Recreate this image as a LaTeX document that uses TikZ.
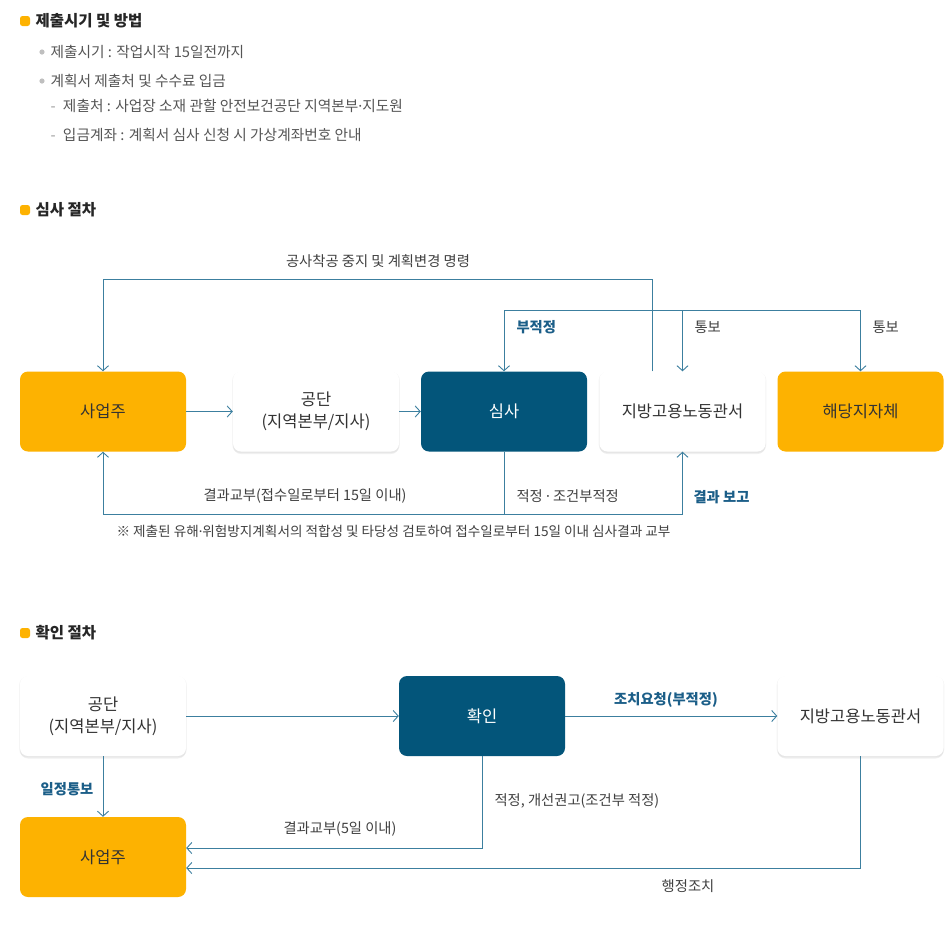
\documentclass[tikz,border=0pt]{standalone}
\usepackage{fontspec}
\setmainfont{Noto Sans CJK KR}
\newfontfamily\dotfont{Noto Sans}
\newcommand\mdot{{\dotfont ·}}
\usetikzlibrary{arrows.meta,shadows}

\definecolor{orangebox}{HTML}{FDB201}
\definecolor{navybox}{HTML}{03557A}
\definecolor{flowline}{HTML}{3C7F9F}
\definecolor{flowlabel}{HTML}{1B5E88}
\definecolor{bodytext}{HTML}{555555}

\begin{document}
\begin{tikzpicture}[x=1pt,y=-1pt,
	box/.style={rounded corners=8pt,minimum width=166pt,minimum height=80pt,
		align=center,font=\fontsize{16.5}{22}\selectfont,text=black!80},
	ownerbox/.style={box,fill=orangebox},
	judgebox/.style={box,fill=navybox,text=white},
	officebox/.style={box,fill=white,
		drop shadow={shadow xshift=0pt,shadow yshift=-2.5pt,fill=black,opacity=0.06},
		drop shadow={shadow xshift=0pt,shadow yshift=-1pt,shadow scale=1.01,fill=black,opacity=0.04}},
	flow/.style={draw=flowline,line width=0.9pt,-{Straight Barb[length=5pt,width=11pt]}},
	line/.style={draw=flowline,line width=0.9pt},
	lbl/.style={font=\fontsize{14.3}{17}\selectfont,text=black!75},
	bluelbl/.style={font=\fontsize{14.3}{17}\selectfont\bfseries,text=flowlabel},
	head/.style={anchor=west,font=\fontsize{15.5}{18}\selectfont\bfseries,text=black!85},
	item/.style={anchor=west,font=\fontsize{14.7}{18}\selectfont,text=bodytext}
	]
	\useasboundingbox[fill=white] (0,0) rectangle (952,938);
	\def\headmark(#1){\fill[orangebox,rounded corners=2.5pt] (#1)++(-5,-5) rectangle ++(10,10);}

	% section 1
	\headmark(25,21)
	\node[head] (h1) at (32,21) {제출시기 및 방법};
	\fill[black!25] (42,52) circle (2.6);
	\node[item] (i1) at (47,52) {제출시기 : 작업시작 15일전까지};
	\fill[black!25] (42,81) circle (2.6);
	\node[item] (i2) at (47,81) {계획서 제출처 및 수수료 입금};
	\node[item] (i3) at (47,106) {{\color{black!40}-}\enspace 제출처 : 사업장 소재 관할 안전보건공단 지역본부\mdot 지도원};
	\node[item] (i4) at (47,135) {{\color{black!40}-}\enspace 입금계좌 : 계획서 심사 신청 시 가상계좌번호 안내};

	% section 2
	\headmark(25,210)
	\node[head] (h2) at (32,210) {심사 절차};
	\node[ownerbox] (owner) at (103,411.5) {사업주};
	\node[officebox] (agency) at (316,411.5) {공단\\(지역본부/지사)};
	\node[judgebox] (review) at (504,411.5) {심사};
	\node[officebox] (labor) at (682.5,411.5) {지방고용노동관서};
	\node[ownerbox] (local) at (860.5,411.5) {해당지자체};

	\draw[flow] (owner) -- (agency);
	\draw[flow] (agency) -- (review);
	\coordinate (stop) at (0,279);
	\draw[flow] ([xshift=-30.5pt]labor.north) -- ([xshift=-30.5pt]labor.north |- stop) -| (owner.north);
	\node[lbl] (stoplbl) at (378,261) {공사착공 중지 및 계획변경 명령};
	\coordinate (notify) at (0,310);
	\draw[line] (review.north |- notify) -- (local.north |- notify);
	\draw[flow] (review.north |- notify) -- (review.north);
	\draw[flow] (labor.north |- notify) -- (labor.north);
	\draw[flow] (local.north |- notify) -- (local.north);
	\node[bluelbl,anchor=west] (unfit) at (513,327) {부적정};
	\node[lbl,anchor=west] (ntf1) at (691,327) {통보};
	\node[lbl,anchor=west] (ntf2) at (869,327) {통보};
	\coordinate (result) at (0,514);
	\draw[flow] (review.south) -- (review.south |- result) -| (owner.south);
	\draw[flow] (review.south |- result) -| (labor.south);
	\node[lbl] (issue) at (305,496) {결과교부(접수일로부터 15일 이내)};
	\node[lbl,anchor=west] (fit) at (513,496) {적정 \mdot\ 조건부적정};
	\node[bluelbl,anchor=west] (report) at (690,497) {결과 보고};
	\node[lbl,anchor=west,font=\fontsize{13.6}{16}\selectfont] (note) at (113,531)
		{※ 제출된 유해\mdot 위험방지계획서의 적합성 및 타당성 검토하여 접수일로부터 15일 이내 심사결과 교부};

	% section 3
	\headmark(25,633)
	\node[head] (h3) at (32,633) {확인 절차};
	\node[officebox] (agency2) at (103,716) {공단\\(지역본부/지사)};
	\node[judgebox] (check) at (482,716) {확인};
	\node[officebox] (labor2) at (860.5,716) {지방고용노동관서};
	\node[ownerbox] (owner2) at (103,857) {사업주};

	\draw[flow] (agency2) -- (check);
	\draw[flow] (check) -- (labor2);
	\node[bluelbl] (req) at (666,700) {조치요청(부적정)};
	\draw[flow] (agency2) -- (owner2);
	\node[bluelbl] (sched) at (67,789) {일정통보};
	\coordinate (issue2) at (0,848);
	\draw[flow] (check.south) -- (check.south |- issue2) -- (owner2.east |- issue2);
	\node[lbl] (issuelbl) at (340,829) {결과교부(5일 이내)};
	\node[lbl,anchor=west] (fit2) at (491,801) {적정, 개선권고(조건부 적정)};
	\coordinate (admin) at (0,868);
	\draw[flow] (labor2.south) -- (labor2.south |- admin) -- (owner2.east |- admin);
	\node[lbl] (adminlbl) at (688,886) {행정조치};
\end{tikzpicture}
\end{document}
